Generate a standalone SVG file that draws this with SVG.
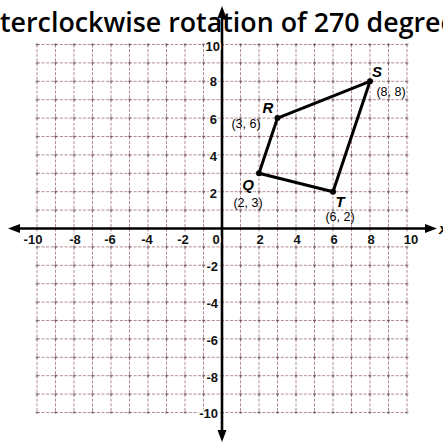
<svg xmlns="http://www.w3.org/2000/svg" width="443" height="443" viewBox="0 0 443 443">
<style>
.g line{stroke:#b38a93;stroke-width:1;stroke-dasharray:3 1.6}
.ax{stroke:#000;stroke-width:2.6;fill:none}
.tk{font-family:"Liberation Sans",Arial,sans-serif;font-size:13px;font-weight:bold;fill:#111;stroke:#fff;stroke-width:3;paint-order:stroke;stroke-linejoin:round}
.pl{font-family:"Liberation Sans",Arial,sans-serif;font-size:12.5px;fill:#000;text-anchor:middle}
.vl{font-family:"Liberation Sans",Arial,sans-serif;font-size:15px;font-weight:bold;font-style:italic;fill:#000;text-anchor:middle}
.title{font-family:"Open Sans","Noto Sans",sans-serif;font-size:27px;font-weight:600;fill:#000}
</style>
<defs>
<pattern id="dots" patternUnits="userSpaceOnUse" x="27.75" y="35.3" width="18.5" height="18.4">
<circle cx="9.25" cy="9.2" r="1.2" fill="#3a2a2e" opacity="0.6"/>
</pattern>
</defs>
<rect width="443" height="443" fill="#fff"/>
<text class="title" x="0" y="32" textLength="456" lengthAdjust="spacingAndGlyphs">terclockwise rotation of 270 degree</text>
<g id="grid" class="g">
<line x1="37" y1="44.5" x2="37" y2="412.5"/><line x1="55.5" y1="44.5" x2="55.5" y2="412.5"/><line x1="74" y1="44.5" x2="74" y2="412.5"/><line x1="92.5" y1="44.5" x2="92.5" y2="412.5"/><line x1="111" y1="44.5" x2="111" y2="412.5"/><line x1="129.5" y1="44.5" x2="129.5" y2="412.5"/><line x1="148" y1="44.5" x2="148" y2="412.5"/><line x1="166.5" y1="44.5" x2="166.5" y2="412.5"/><line x1="185" y1="44.5" x2="185" y2="412.5"/><line x1="203.5" y1="44.5" x2="203.5" y2="412.5"/><line x1="240.5" y1="44.5" x2="240.5" y2="412.5"/><line x1="259" y1="44.5" x2="259" y2="412.5"/><line x1="277.5" y1="44.5" x2="277.5" y2="412.5"/><line x1="296" y1="44.5" x2="296" y2="412.5"/><line x1="314.5" y1="44.5" x2="314.5" y2="412.5"/><line x1="333" y1="44.5" x2="333" y2="412.5"/><line x1="351.5" y1="44.5" x2="351.5" y2="412.5"/><line x1="370" y1="44.5" x2="370" y2="412.5"/><line x1="388.5" y1="44.5" x2="388.5" y2="412.5"/><line x1="407" y1="44.5" x2="407" y2="412.5"/>
<line x1="37" y1="44.5" x2="407" y2="44.5"/><line x1="37" y1="62.9" x2="407" y2="62.9"/><line x1="37" y1="81.3" x2="407" y2="81.3"/><line x1="37" y1="99.7" x2="407" y2="99.7"/><line x1="37" y1="118.1" x2="407" y2="118.1"/><line x1="37" y1="136.5" x2="407" y2="136.5"/><line x1="37" y1="154.9" x2="407" y2="154.9"/><line x1="37" y1="173.3" x2="407" y2="173.3"/><line x1="37" y1="191.7" x2="407" y2="191.7"/><line x1="37" y1="210.1" x2="407" y2="210.1"/><line x1="37" y1="246.9" x2="407" y2="246.9"/><line x1="37" y1="265.3" x2="407" y2="265.3"/><line x1="37" y1="283.7" x2="407" y2="283.7"/><line x1="37" y1="302.1" x2="407" y2="302.1"/><line x1="37" y1="320.5" x2="407" y2="320.5"/><line x1="37" y1="338.9" x2="407" y2="338.9"/><line x1="37" y1="357.3" x2="407" y2="357.3"/><line x1="37" y1="375.7" x2="407" y2="375.7"/><line x1="37" y1="394.1" x2="407" y2="394.1"/><line x1="37" y1="412.5" x2="407" y2="412.5"/>
</g>
<rect x="32" y="39" width="380" height="378" fill="url(#dots)"/>
<g id="axes">
<line class="ax" x1="16" y1="228.5" x2="428" y2="228.5"/>
<path d="M8 228.5 L20 224 L20 233 Z" fill="#000"/>
<path d="M437 228.5 L425 224 L425 233 Z" fill="#000"/>
<line class="ax" x1="222" y1="14" x2="222" y2="433"/>
<path d="M222 6 L217.5 18 L226.5 18 Z" fill="#000"/>
<path d="M222 442 L217.5 430 L226.5 430 Z" fill="#000"/>
<text x="439" y="234" style="font-family:'Liberation Sans',Arial,sans-serif;font-size:15px;font-style:italic;font-weight:bold">x</text>
</g>
<g id="xlabels" class="tk" text-anchor="middle">
<text x="33" y="244">-10</text><text x="75" y="244">-8</text><text x="110" y="244">-6</text><text x="147" y="244">-4</text><text x="183" y="244">-2</text><text x="216" y="244">0</text>
<text x="260" y="244">2</text><text x="297" y="244">4</text><text x="334" y="244">6</text><text x="371" y="244">8</text><text x="411" y="244">10</text>
</g>
<g id="ylabels" class="tk" text-anchor="end">
<text x="220" y="50.5">10</text><text x="217" y="86">8</text><text x="217" y="123.5">6</text><text x="217" y="160.5">4</text><text x="217" y="197.5">2</text>
<text x="218" y="271">-2</text><text x="218" y="308">-4</text><text x="218" y="345">-6</text><text x="218" y="382">-8</text><text x="218" y="418">-10</text>
</g>
<g id="connectors">
<polygon points="259,173.3 277.5,118.1 370,81.3 333,191.7" fill="none" stroke="#000" stroke-width="3" stroke-linejoin="round"/>
</g>
<g id="node-Q"><circle cx="259" cy="173.3" r="3" fill="#000"/><text class="vl" x="248" y="190">Q</text><text class="pl" x="248" y="207">(2, 3)</text></g>
<g id="node-R"><circle cx="277.5" cy="118.1" r="3" fill="#000"/><text class="vl" x="268" y="113">R</text><text class="pl" x="246" y="128">(3, 6)</text></g>
<g id="node-S"><circle cx="370" cy="81.3" r="3" fill="#000"/><text class="vl" x="377" y="77">S</text><text class="pl" x="391" y="96">(8, 8)</text></g>
<g id="node-T"><circle cx="333" cy="191.7" r="3" fill="#000"/><text class="vl" x="340" y="206.5">T</text><text class="pl" x="340" y="221">(6, 2)</text></g>
</svg>
